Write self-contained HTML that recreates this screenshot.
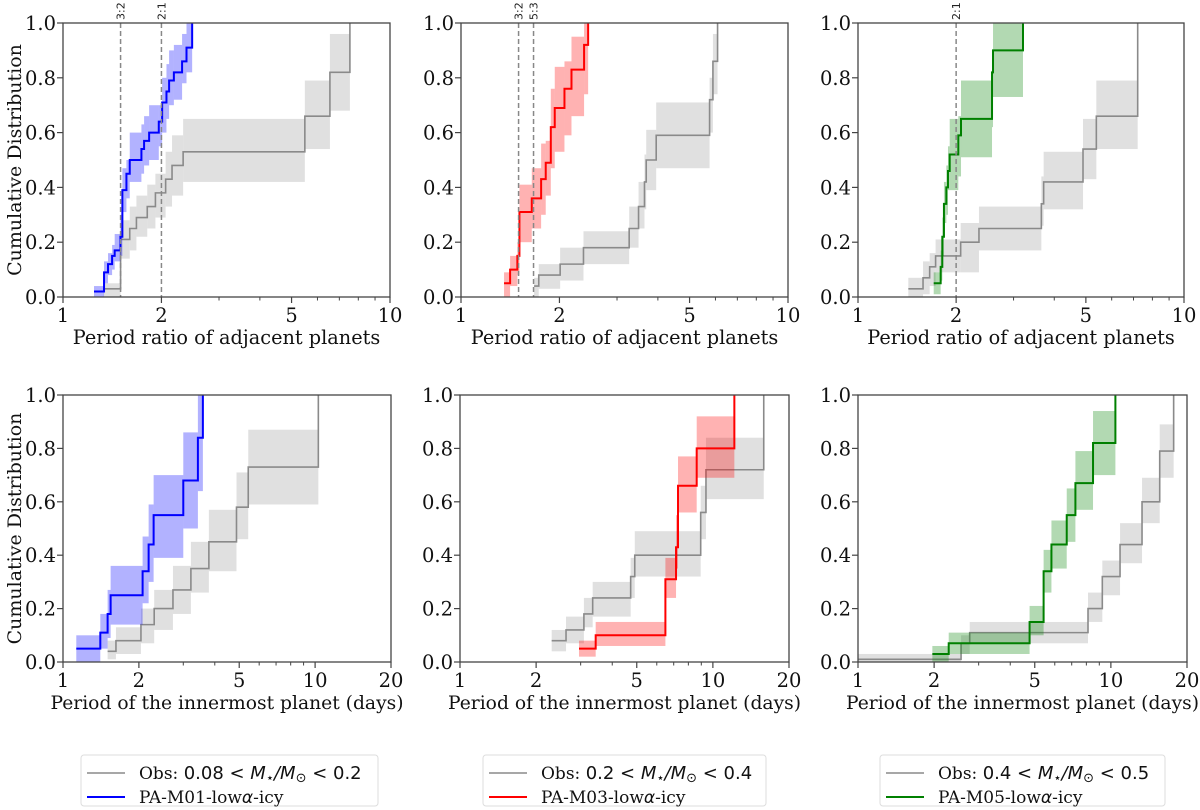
<!DOCTYPE html>
<html><head><meta charset="utf-8"><style>
body{margin:0;background:#fff;}
svg{display:block;font-family:"DejaVu Serif","Liberation Serif",serif;}
</style></head><body>
<svg id="fig" width="1200" height="810" viewBox="0 0 1200 810" xmlns="http://www.w3.org/2000/svg"></svg>
<script>
// ---------- data ----------
const topTicks=[1,2,5,10];
const botTicks=[1,2,5,10,20];
const yTicks=[0,0.2,0.4,0.6,0.8,1.0];
const yTickLabels=["0.0","0.2","0.4","0.6","0.8","1.0"];

// Panel 1 (top-left)
const p1ObsX=[1.332,1.50,1.60,1.677,1.81,1.917,2.06,2.155,2.33,5.49,6.55,7.54];
const p1ObsY=[0.03,0.21,0.25,0.29,0.33,0.38,0.43,0.48,0.53,0.66,0.82,1.0];
const p1ObsLo=[0.0,0.14,0.17,0.22,0.25,0.29,0.33,0.37,0.42,0.54,0.68,1.0];
const p1ObsHi=[0.05,0.28,0.33,0.37,0.41,0.45,0.53,0.59,0.65,0.79,0.96,1.0];
const p1ModX=[1.244,1.335,1.373,1.413,1.439,1.498,1.519,1.563,1.600,1.737,1.770,1.834,1.963,2.01,2.072,2.111,2.183,2.313,2.386,2.483];
const p1ModY=[0.02,0.09,0.12,0.15,0.17,0.22,0.39,0.45,0.50,0.54,0.57,0.60,0.64,0.71,0.75,0.79,0.82,0.86,0.91,1.0];
const p1ModLo=[0.0,0.05,0.08,0.10,0.13,0.15,0.31,0.36,0.42,0.45,0.48,0.50,0.55,0.60,0.65,0.70,0.72,0.78,0.82,1.0];
const p1ModHi=[0.04,0.13,0.16,0.19,0.23,0.30,0.47,0.50,0.60,0.63,0.66,0.70,0.70,0.80,0.85,0.90,0.92,0.96,1.0,1.0];
const p1Res=[1.5,2.0];
const p1ResLabels=["3:2","2:1"];

// Panel 2 (top-middle)
const p2ObsX=[1.673,1.729,2.01,2.369,3.268,3.491,3.64,3.685,3.953,5.757,5.894,6.09];
const p2ObsY=[0.04,0.08,0.12,0.18,0.25,0.33,0.42,0.50,0.59,0.72,0.86,1.0];
const p2ObsLo=[0.0,0.03,0.06,0.12,0.18,0.25,0.32,0.39,0.47,0.60,0.74,1.0];
const p2ObsHi=[0.07,0.12,0.18,0.24,0.33,0.42,0.52,0.61,0.71,0.80,0.96,1.0];
const p2ModX=[1.354,1.413,1.487,1.509,1.646,1.758,1.816,1.882,1.935,2.072,2.177,2.379,2.448];
const p2ModY=[0.05,0.10,0.15,0.31,0.36,0.43,0.49,0.62,0.69,0.76,0.83,0.92,1.0];
const p2ModLo=[0.0,0.04,0.08,0.20,0.25,0.30,0.37,0.47,0.53,0.59,0.66,0.74,1.0];
const p2ModHi=[0.09,0.15,0.20,0.41,0.47,0.56,0.57,0.76,0.84,0.86,0.95,1.0,1.0];
const p2Res=[1.5,1.6667];
const p2ResLabels=["3:2","5:3"];

// Panel 3 (top-right)
const p3ObsX=[1.427,1.583,1.659,1.73,2.065,2.35,3.651,3.711,4.9,5.384,7.21];
const p3ObsY=[0.03,0.07,0.11,0.15,0.20,0.25,0.34,0.42,0.54,0.66,1.0];
const p3ObsLo=[0.0,0.01,0.04,0.09,0.09,0.17,0.26,0.32,0.43,0.54,1.0];
const p3ObsHi=[0.07,0.13,0.16,0.21,0.27,0.33,0.44,0.53,0.65,0.79,1.0];
const p3ModX=[1.707,1.793,1.814,1.835,1.866,1.888,1.911,2.031,2.07,2.577,2.595,3.207];
const p3ModY=[0.05,0.11,0.22,0.34,0.40,0.46,0.52,0.59,0.65,0.82,0.90,1.0];
const p3ModLo=[0.01,0.06,0.15,0.27,0.30,0.39,0.39,0.44,0.51,0.62,0.73,1.0];
const p3ModHi=[0.09,0.17,0.29,0.42,0.48,0.55,0.65,0.66,0.79,0.90,1.0,1.0];
const p3Res=[2.0];
const p3ResLabels=["2:1"];

// Panel 4 (bottom-left)
const p4ObsX=[1.503,1.622,2.038,2.30,2.73,3.216,3.79,4.877,5.43,10.3];
const p4ObsY=[0.04,0.08,0.14,0.20,0.27,0.35,0.45,0.58,0.73,1.0];
const p4ObsLo=[0.01,0.03,0.07,0.12,0.18,0.26,0.34,0.46,0.59,1.0];
const p4ObsHi=[0.08,0.13,0.20,0.27,0.36,0.45,0.57,0.71,0.87,1.0];
const p4ModX=[1.129,1.406,1.503,1.545,2.069,2.186,2.288,3.0,3.428,3.588];
const p4ModY=[0.05,0.11,0.18,0.25,0.34,0.44,0.55,0.68,0.84,1.0];
const p4ModLo=[0.0,0.05,0.09,0.14,0.22,0.30,0.39,0.50,0.64,1.0];
const p4ModHi=[0.10,0.18,0.27,0.36,0.47,0.59,0.70,0.86,1.0,1.0];

// Panel 5 (bottom-middle)
const p5ObsX=[2.304,2.626,3.09,3.347,4.73,4.91,8.95,9.39,15.89];
const p5ObsY=[0.08,0.12,0.18,0.24,0.32,0.40,0.56,0.72,1.0];
const p5ObsLo=[0.04,0.07,0.13,0.17,0.24,0.32,0.46,0.61,1.0];
const p5ObsHi=[0.12,0.17,0.24,0.30,0.39,0.49,0.66,0.84,1.0];
const p5ModX=[2.955,3.44,6.49,7.15,7.28,8.63,12.16];
const p5ModY=[0.05,0.10,0.31,0.43,0.66,0.80,1.0];
const p5ModLo=[0.02,0.06,0.24,0.35,0.56,0.69,1.0];
const p5ModHi=[0.08,0.15,0.39,0.55,0.77,0.92,1.0];

// Panel 6 (bottom-right)
const p6ObsX=[1.0,2.556,2.765,8.12,9.25,10.87,13.28,15.6,17.71];
const p6ObsY=[0.01,0.07,0.11,0.20,0.32,0.44,0.60,0.79,1.0];
const p6ObsLo=[0.0,0.03,0.07,0.15,0.25,0.37,0.52,0.69,1.0];
const p6ObsHi=[0.03,0.10,0.15,0.26,0.38,0.52,0.69,0.89,1.0];
const p6ModX=[1.968,2.284,4.77,5.42,5.82,6.69,7.24,8.5,10.42];
const p6ModY=[0.03,0.07,0.15,0.34,0.44,0.55,0.67,0.82,1.0];
const p6ModLo=[0.0,0.03,0.10,0.26,0.35,0.45,0.57,0.70,1.0];
const p6ModHi=[0.06,0.11,0.21,0.42,0.53,0.65,0.79,0.94,1.0];

// ---------- drawing ----------
const NS="http://www.w3.org/2000/svg";
const svg=document.getElementById('fig');
function mk(tag,attrs,parent){const e=document.createElementNS(NS,tag);for(const k in attrs)e.setAttribute(k,attrs[k]);(parent||svg).appendChild(e);return e;}

const panels=[
 {name:'panel-top-left',x0:63,x1:390,y0:23,y1:297,xmax:10,ticks:topTicks,obs:[p1ObsX,p1ObsY,p1ObsLo,p1ObsHi],mod:[p1ModX,p1ModY,p1ModLo,p1ModHi],col:'#0000ff',res:p1Res,resL:p1ResLabels,xlabel:'Period ratio of adjacent planets',xfs:19.3,ylab:true},
 {name:'panel-top-middle',x0:461,x1:788,y0:23,y1:297,xmax:10,ticks:topTicks,obs:[p2ObsX,p2ObsY,p2ObsLo,p2ObsHi],mod:[p2ModX,p2ModY,p2ModLo,p2ModHi],col:'#ff0000',res:p2Res,resL:p2ResLabels,xlabel:'Period ratio of adjacent planets',xfs:19.3,ylab:false},
 {name:'panel-top-right',x0:858,x1:1184,y0:23,y1:297,xmax:10,ticks:topTicks,obs:[p3ObsX,p3ObsY,p3ObsLo,p3ObsHi],mod:[p3ModX,p3ModY,p3ModLo,p3ModHi],col:'#008000',res:p3Res,resL:p3ResLabels,xlabel:'Period ratio of adjacent planets',xfs:19.3,ylab:false},
 {name:'panel-bottom-left',x0:63,x1:391,y0:395,y1:662,xmax:20,ticks:botTicks,obs:[p4ObsX,p4ObsY,p4ObsLo,p4ObsHi],mod:[p4ModX,p4ModY,p4ModLo,p4ModHi],col:'#0000ff',res:[],resL:[],xlabel:'Period of the innermost planet (days)',xfs:18.7,ylab:true},
 {name:'panel-bottom-middle',x0:460,x1:789,y0:395,y1:662,xmax:20,ticks:botTicks,obs:[p5ObsX,p5ObsY,p5ObsLo,p5ObsHi],mod:[p5ModX,p5ModY,p5ModLo,p5ModHi],col:'#ff0000',res:[],resL:[],xlabel:'Period of the innermost planet (days)',xfs:18.7,ylab:false},
 {name:'panel-bottom-right',x0:858,x1:1187,y0:395,y1:662,xmax:20,ticks:botTicks,obs:[p6ObsX,p6ObsY,p6ObsLo,p6ObsHi],mod:[p6ModX,p6ModY,p6ModLo,p6ModHi],col:'#008000',res:[],resL:[],xlabel:'Period of the innermost planet (days)',xfs:18.7,ylab:false}
];

function drawSeries(g,sx,sy,d,lineCol,bandCol,bandOp,lw,nm){
  const [xs,ys,lo,hi]=d;
  for(let i=0;i<xs.length-1;i++){
    const r=mk('rect',{x:sx(xs[i]),y:sy(hi[i]),width:sx(xs[i+1])-sx(xs[i]),height:sy(lo[i])-sy(hi[i]),fill:bandCol,'fill-opacity':bandOp},g);
    
    
  }
  let p='M'+sx(xs[0])+','+sy(ys[0]);
  for(let i=1;i<xs.length;i++){p+=' H'+sx(xs[i])+' V'+sy(ys[i]);}
  const l=mk('path',{d:p,fill:'none',stroke:lineCol,'stroke-width':lw},g);
  
  
}

panels.forEach(P=>{
  const g=mk('g',{});
  
  
  const L=Math.log10(P.xmax);
  const sx=v=>P.x0+(Math.log10(v)/L)*(P.x1-P.x0);
  const sy=v=>P.y1-v*(P.y1-P.y0);
  drawSeries(g,sx,sy,P.obs,'#8a8a8a','#d3d3d3',0.7,1.6,'observed');
  drawSeries(g,sx,sy,P.mod,P.col,P.col,0.3,2,'model');
  P.res.forEach((r,i)=>{
    const x=sx(r);
    const dl=mk('line',{x1:x,y1:P.y0,x2:x,y2:P.y1,stroke:'#888','stroke-width':1.5,'stroke-dasharray':'5,3'},g);
    
    
    const t=mk('text',{x:0,y:0,transform:'translate('+(x+4)+','+(P.y0-3)+') rotate(-90)','font-size':11,'font-family':'DejaVu Sans,sans-serif',fill:'#222'},g);
    t.textContent=P.resL[i];
    
    
  });
  const fr=mk('rect',{x:P.x0,y:P.y0,width:P.x1-P.x0,height:P.y1-P.y0,fill:'none',stroke:'#444','stroke-width':1.3},g);
  
  
  const minor=[3,4,6,7,8,9];
  minor.forEach(m=>{const x=sx(m);mk('line',{x1:x,y1:P.y1,x2:x,y2:P.y1+3.5,stroke:'#444','stroke-width':1},g);});
  P.ticks.forEach(t=>{
    const x=sx(t);
    mk('line',{x1:x,y1:P.y1,x2:x,y2:P.y1+6,stroke:'#444','stroke-width':1.2},g);
    const tx=mk('text',{x:x,y:P.y1+25,'text-anchor':'middle','font-size':19.5,fill:'#111'},g);
    tx.textContent=String(t);
    
    
  });
  yTicks.forEach((v,i)=>{
    const y=sy(v);
    mk('line',{x1:P.x0-6,y1:y,x2:P.x0,y2:y,stroke:'#444','stroke-width':1.2},g);
    const ty=mk('text',{x:P.x0-7,y:y+7,'text-anchor':'end','font-size':19.5,fill:'#111'},g);
    ty.textContent=yTickLabels[i];
    
    
  });
  const xl=mk('text',{x:(P.x0+P.x1)/2,y:P.y1+47,'text-anchor':'middle','font-size':P.xfs,fill:'#111'},g);
  xl.textContent=P.xlabel;
  
  
  if(P.ylab){
    const yc=(P.y0+P.y1)/2;
    const yl=mk('text',{x:0,y:0,transform:'translate(21,'+yc+') rotate(-90)','text-anchor':'middle','font-size':19,fill:'#111'},g);
    yl.textContent='Cumulative Distribution';
    
    
  }
});

// legends
const legends=[
 {x0:81,x1:378,lo:'0.08',hi:'0.2',model:'PA-M01-low',col:'#0000ff'},
 {x0:483,x1:766,lo:'0.2',hi:'0.4',model:'PA-M03-low',col:'#ff0000'},
 {x0:880,x1:1165,lo:'0.4',hi:'0.5',model:'PA-M05-low',col:'#008000'}
];
legends.forEach((Lg,i)=>{
  const g=mk('g',{});
  
  
  mk('rect',{x:Lg.x0,y:755,width:Lg.x1-Lg.x0,height:51,fill:'#fff',stroke:'#ddd','stroke-width':1,rx:3},g);
  mk('line',{x1:Lg.x0+6,y1:773,x2:Lg.x0+44,y2:773,stroke:'#8a8a8a','stroke-width':1.6},g);
  mk('line',{x1:Lg.x0+6,y1:797,x2:Lg.x0+44,y2:797,stroke:Lg.col,'stroke-width':2},g);
  const t1=mk('text',{x:Lg.x0+58,y:779,'font-size':17,fill:'#111'},g);
  
  
  t1.innerHTML='Obs: <tspan font-family="DejaVu Sans,sans-serif" font-size="18">'+Lg.lo+' &lt; </tspan><tspan font-family="DejaVu Sans,sans-serif" font-size="18" font-style="italic">M</tspan><tspan font-family="DejaVu Sans,sans-serif" font-size="13" dy="3">⋆</tspan><tspan font-family="DejaVu Sans,sans-serif" font-size="18" font-style="italic" dy="-3">/M</tspan><tspan font-family="DejaVu Sans,sans-serif" font-size="13" dy="3">⊙</tspan><tspan font-family="DejaVu Sans,sans-serif" font-size="18" dy="-3"> &lt; '+Lg.hi+'</tspan>';
  const t2=mk('text',{x:Lg.x0+58,y:803,'font-size':17,fill:'#111'},g);
  
  
  t2.innerHTML=Lg.model+'<tspan font-family="DejaVu Sans,sans-serif" font-style="italic">α</tspan>-icy';
});
</script>
</body></html>
